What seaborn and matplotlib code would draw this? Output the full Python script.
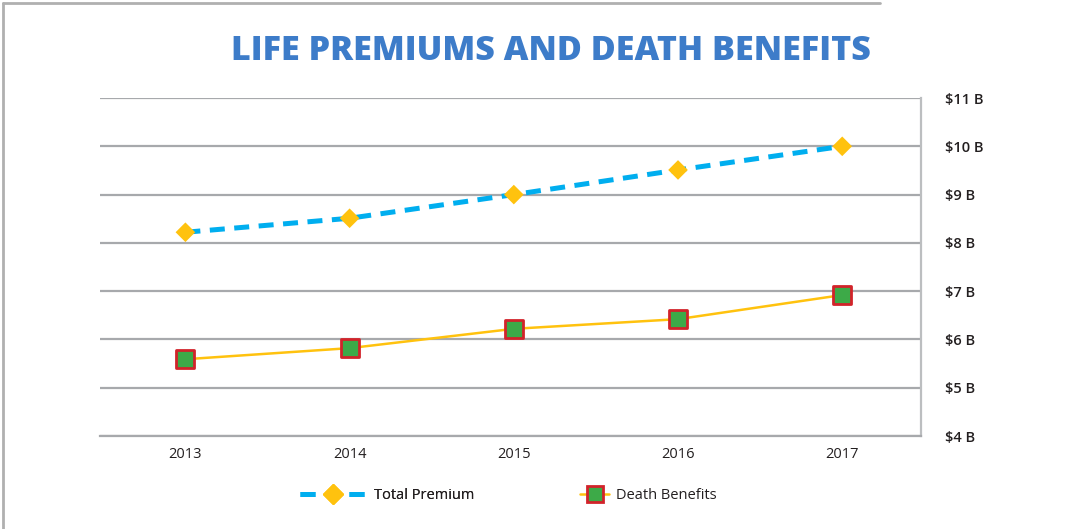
"""Life premiums and death benefits, 2013-2017."""

import matplotlib.pyplot as plt
import pandas as pd
import seaborn as sns
from matplotlib.lines import Line2D
from matplotlib.ticker import FuncFormatter

years = ["2013", "2014", "2015", "2016", "2017"]
total_premium = [8.22, 8.51, 9.0, 9.51, 10.0]
death_benefits = [5.59, 5.82, 6.22, 6.42, 6.92]
y_ticks = [4, 5, 6, 7, 8, 9, 10, 11]

BLUE = "#00AEEF"
YELLOW = "#FFC20E"
GREEN = "#3DAA48"
RED = "#D2232A"
GRID = "#A7A9AC"
TEXT = "#231F20"

sns.set_theme(style="white")
plt.rcParams["font.family"] = ["Open Sans", "DejaVu Sans"]

df = pd.DataFrame({
    "year": years * 2,
    "value": total_premium + death_benefits,
    "series": ["Total Premium"] * 5 + ["Death Benefits"] * 5,
})

fig = plt.figure(figsize=(10.86, 5.29), dpi=100)
ax = fig.add_axes([0.0921, 0.1758, 0.7560, 0.6389])

prem = df[df["series"] == "Total Premium"]
death = df[df["series"] == "Death Benefits"]

sns.lineplot(data=prem, x="year", y="value", ax=ax, color=BLUE, linewidth=3.6,
             dashes=False, zorder=3)
ax.lines[-1].set_dashes((3.0, 1.9))
ax.lines[-1].set_dash_capstyle("butt")
sns.scatterplot(data=prem, x="year", y="value", ax=ax, marker="D", s=100,
                color=YELLOW, edgecolor="none", zorder=4)

sns.lineplot(data=death, x="year", y="value", ax=ax, color=YELLOW, linewidth=1.8,
             zorder=3)
sns.scatterplot(data=death, x="year", y="value", ax=ax, marker="s", s=170,
                color=GREEN, edgecolor=RED, linewidth=2.0, zorder=4)

ax.set_xlim(-0.52, 4.48)
ax.set_ylim(4, 11)
ax.set_yticks(y_ticks)
ax.yaxis.set_major_formatter(FuncFormatter(lambda v, _: f"${v:.0f} B"))
ax.yaxis.tick_right()
ax.grid(axis="y", color=GRID, linewidth=1.6)
ax.set_axisbelow(True)
ax.set_xlabel("")
ax.set_ylabel("")
ax.tick_params(axis="y", length=0, pad=17, labelsize=10.5, labelcolor=TEXT)
ax.tick_params(axis="x", length=0, pad=8, labelsize=10.5, labelcolor=TEXT)
for lbl in ax.get_yticklabels():
    lbl.set_fontweight("semibold")
    lbl.set_horizontalalignment("left")
for lbl in ax.get_xticklabels():
    lbl.set_fontweight("medium")

for side in ["left", "top"]:
    ax.spines[side].set_visible(False)
ax.spines["bottom"].set_color(GRID)
ax.spines["bottom"].set_linewidth(1.6)
ax.spines["right"].set_color("#BCBEC0")
ax.spines["right"].set_linewidth(1.6)
if ax.get_legend():
    ax.get_legend().remove()

fig.text(0.507, 0.903, "LIFE PREMIUMS AND DEATH BENEFITS", ha="center", va="center",
         fontsize=24.5, fontweight="extra bold", color="#3D7CC9")

prem_handle = Line2D([], [], color=BLUE, linewidth=3.6, dashes=(3.0, 1.9), marker="D",
                     markersize=10, markerfacecolor=YELLOW, markeredgecolor=YELLOW)
death_handle = Line2D([], [], color=YELLOW, linewidth=1.8, marker="s", markersize=12,
                      markerfacecolor=GREEN, markeredgecolor=RED, markeredgewidth=2.0)
leg1 = fig.legend([prem_handle], ["Total Premium"], loc="center left",
                  bbox_to_anchor=(0.264, 0.063), frameon=False, fontsize=10.5,
                  handlelength=4.6, handletextpad=0.5, labelcolor=TEXT)
fig.add_artist(leg1)
fig.legend([death_handle], ["Death Benefits"], loc="center left",
           bbox_to_anchor=(0.522, 0.063), frameon=False, fontsize=10.5,
           handlelength=2.0, handletextpad=0.5, labelcolor=TEXT)

# outer frame of the original graphic
fig.add_artist(Line2D([0.003, 0.003], [0, 0.994], transform=fig.transFigure,
                      color="#B0B0B0", linewidth=2))
fig.add_artist(Line2D([0.003, 0.81], [0.994, 0.994], transform=fig.transFigure,
                      color="#B0B0B0", linewidth=2))

fig.savefig("out.png", dpi=100)
